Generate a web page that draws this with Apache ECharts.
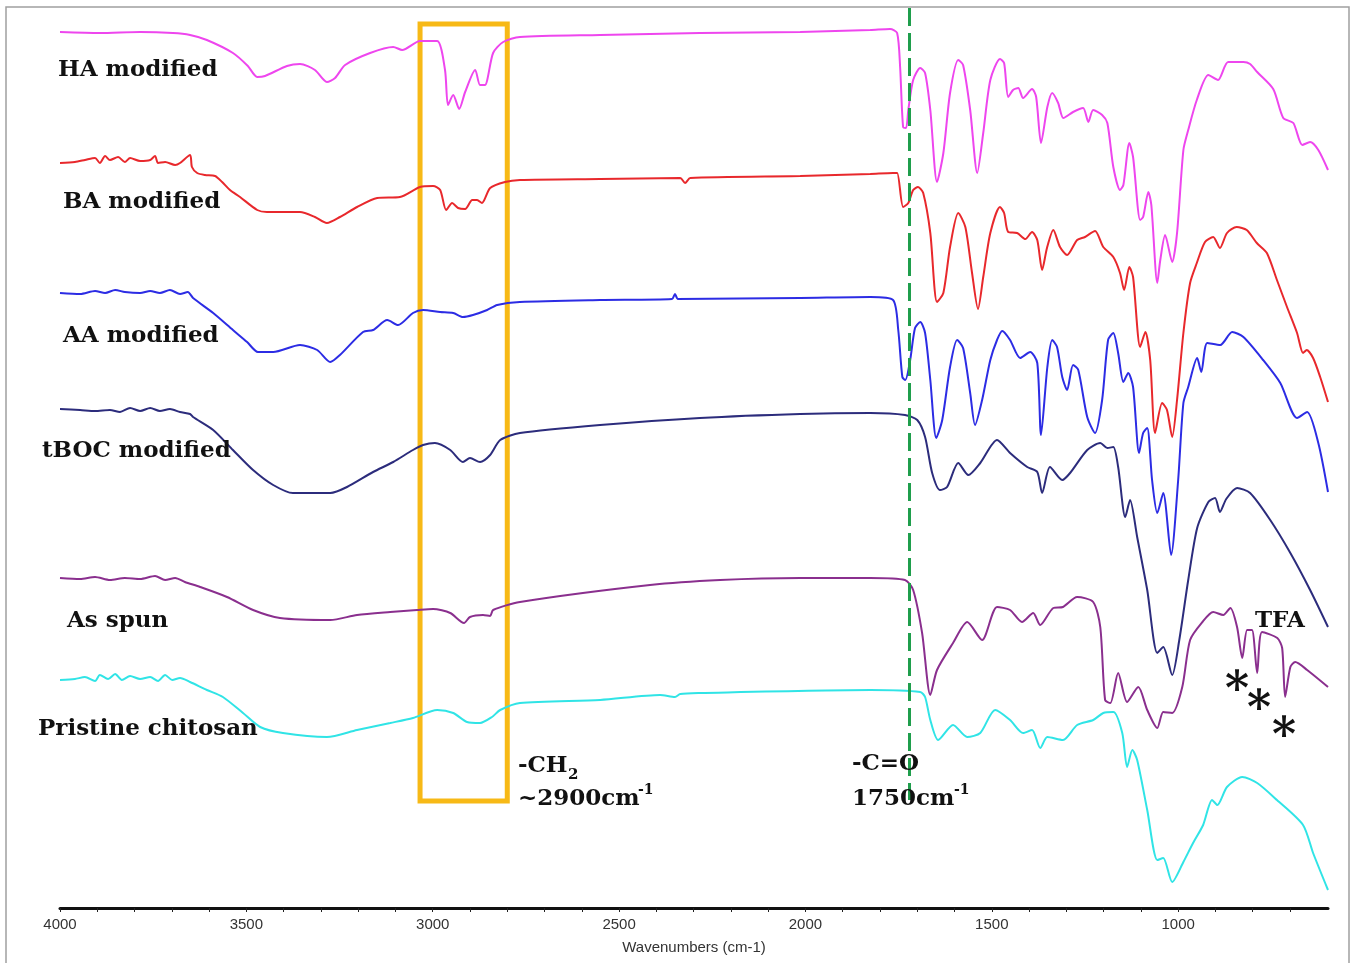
<!DOCTYPE html>
<html>
<head>
<meta charset="utf-8">
<title>FTIR spectra</title>
<script src="https://cdn.jsdelivr.net/npm/echarts@6/dist/echarts.min.js"></script>
<style>
  html, body { margin: 0; padding: 0; background: #fff; }
  #chart { width: 1355px; height: 963px; }
</style>
</head>
<body>
<div id="chart"></div>
<script>
// x = wavenumber (cm-1), y = transmittance with stacked offsets (arbitrary units)
const haModified = [
  [4000, 876], [3893, 875], [3785, 876], [3697, 875], [3651, 873], [3606, 868], [3536, 855], [3496, 842],
  [3471, 831], [3450, 832], [3391, 842], [3356, 844], [3316, 838], [3284, 826], [3262, 830], [3235, 843],
  [3168, 855], [3106, 861], [3082, 858], [3034, 867], [2988, 867], [2967, 838], [2959, 803], [2945, 813],
  [2929, 799], [2913, 816], [2886, 838], [2873, 823], [2860, 823], [2838, 855], [2811, 866], [2766, 871],
  [2551, 873], [2283, 875], [2014, 876], [1826, 878], [1773, 879], [1754, 875], [1746, 841], [1738, 781],
  [1730, 780], [1724, 798], [1711, 828], [1692, 840], [1679, 835], [1665, 798], [1647, 726], [1630, 755],
  [1612, 815], [1590, 848], [1577, 843], [1558, 798], [1539, 735], [1523, 775], [1504, 828], [1478, 849],
  [1467, 845], [1456, 811], [1443, 818], [1429, 820], [1416, 810], [1392, 819], [1381, 811], [1368, 765],
  [1351, 801], [1338, 815], [1322, 805], [1308, 790], [1282, 796], [1255, 800], [1241, 786], [1228, 798],
  [1204, 793], [1190, 785], [1174, 741], [1156, 718], [1147, 723], [1131, 765], [1121, 751], [1102, 688],
  [1094, 691], [1080, 716], [1072, 703], [1056, 625], [1048, 648], [1035, 673], [1016, 646], [1003, 675],
  [986, 758], [973, 778], [950, 808], [919, 833], [893, 828], [866, 846], [825, 846], [807, 844],
  [788, 836], [745, 819], [718, 790], [691, 785], [667, 763], [646, 766], [624, 758], [598, 738]
];

const baModified = [
  [4000, 745], [3960, 746], [3933, 748], [3906, 750], [3893, 745], [3879, 752], [3866, 748], [3844, 751],
  [3826, 746], [3812, 750], [3785, 747], [3758, 748], [3745, 752], [3737, 745], [3718, 746], [3691, 743],
  [3678, 745], [3651, 753], [3646, 741], [3632, 735], [3611, 733], [3584, 732], [3565, 726], [3544, 718],
  [3517, 711], [3471, 698], [3445, 696], [3356, 696], [3316, 691], [3284, 685], [3249, 691], [3203, 701],
  [3149, 710], [3088, 711], [3034, 721], [2999, 722], [2980, 718], [2964, 698], [2948, 705], [2932, 700],
  [2913, 699], [2894, 708], [2881, 708], [2868, 705], [2846, 720], [2806, 726], [2766, 728], [2551, 729],
  [2336, 730], [2323, 725], [2309, 730], [2014, 732], [1826, 734], [1765, 735], [1754, 735], [1738, 701],
  [1724, 705], [1711, 718], [1698, 721], [1684, 715], [1665, 675], [1647, 606], [1630, 615], [1612, 661],
  [1590, 695], [1571, 681], [1553, 635], [1537, 599], [1523, 631], [1504, 675], [1478, 701], [1467, 695],
  [1456, 676], [1432, 675], [1410, 669], [1392, 676], [1378, 668], [1365, 638], [1352, 660], [1335, 678],
  [1317, 661], [1298, 653], [1271, 668], [1250, 671], [1223, 677], [1201, 661], [1174, 651], [1156, 635],
  [1145, 618], [1131, 641], [1121, 631], [1102, 561], [1088, 576], [1075, 548], [1062, 475], [1043, 505],
  [1030, 498], [1016, 471], [1003, 508], [986, 575], [968, 625], [950, 645], [928, 666], [906, 671],
  [888, 660], [869, 675], [843, 681], [816, 678], [789, 665], [762, 655], [735, 628], [708, 601],
  [681, 575], [665, 555], [655, 558], [638, 550], [619, 531], [598, 506]
];

const aaModified = [
  [4000, 615], [3946, 614], [3906, 617], [3879, 615], [3852, 618], [3826, 616], [3785, 615], [3758, 617],
  [3732, 615], [3705, 618], [3678, 614], [3657, 616], [3643, 610], [3589, 595], [3536, 578], [3498, 566],
  [3469, 556], [3428, 556], [3356, 563], [3310, 558], [3275, 546], [3249, 553], [3187, 576], [3160, 578],
  [3122, 588], [3093, 583], [3053, 595], [3026, 598], [2980, 596], [2945, 595], [2919, 591], [2892, 593],
  [2854, 598], [2827, 603], [2766, 606], [2551, 608], [2358, 609], [2350, 614], [2342, 609], [2014, 610],
  [1826, 611], [1765, 608], [1751, 578], [1740, 531], [1732, 528], [1719, 548], [1706, 580], [1692, 586],
  [1679, 575], [1665, 528], [1649, 470], [1633, 488], [1612, 541], [1593, 568], [1577, 560], [1558, 515],
  [1545, 483], [1526, 508], [1504, 548], [1486, 568], [1472, 577], [1451, 568], [1424, 550], [1397, 556],
  [1378, 545], [1368, 473], [1351, 541], [1338, 568], [1325, 561], [1311, 531], [1298, 518], [1282, 543],
  [1268, 538], [1244, 491], [1223, 475], [1204, 508], [1188, 568], [1174, 575], [1161, 555], [1147, 526],
  [1134, 535], [1121, 521], [1105, 455], [1094, 475], [1083, 480], [1070, 428], [1056, 395], [1040, 415],
  [1019, 353], [1000, 428], [986, 505], [973, 521], [949, 550], [938, 536], [922, 565], [887, 563],
  [855, 576], [825, 571], [772, 548], [726, 525], [681, 490], [654, 496], [624, 465], [598, 416]
];

const tbocModified = [
  [4000, 499], [3946, 498], [3906, 497], [3866, 498], [3839, 496], [3812, 500], [3785, 497], [3758, 500],
  [3732, 497], [3705, 499], [3678, 496], [3651, 494], [3643, 491], [3589, 478], [3536, 458], [3482, 438],
  [3428, 423], [3375, 415], [3275, 415], [3230, 421], [3160, 436], [3106, 446], [3053, 458], [3026, 463],
  [2994, 465], [2953, 458], [2919, 446], [2900, 450], [2873, 446], [2846, 453], [2819, 468], [2766, 475],
  [2551, 483], [2283, 490], [2014, 494], [1826, 495], [1733, 493], [1700, 488], [1679, 471], [1660, 435],
  [1639, 418], [1620, 421], [1590, 445], [1563, 433], [1531, 445], [1486, 468], [1451, 455], [1405, 441],
  [1378, 436], [1365, 415], [1344, 441], [1311, 428], [1290, 435], [1244, 458], [1209, 465], [1190, 460],
  [1174, 461], [1161, 441], [1142, 391], [1129, 408], [1110, 371], [1083, 318], [1056, 255], [1040, 261],
  [1016, 233], [997, 268], [973, 328], [949, 380], [919, 406], [901, 410], [888, 396], [871, 409],
  [842, 420], [807, 415], [753, 388], [699, 355], [646, 318], [598, 281]
];

const asSpun = [
  [4000, 330], [3946, 329], [3906, 331], [3866, 328], [3826, 330], [3785, 329], [3745, 332], [3718, 328],
  [3691, 330], [3665, 326], [3624, 321], [3552, 311], [3482, 298], [3410, 290], [3275, 288], [3203, 293],
  [3114, 296], [3042, 298], [2999, 299], [2953, 295], [2916, 285], [2900, 291], [2865, 293], [2846, 292],
  [2838, 298], [2766, 306], [2417, 323], [2229, 328], [2014, 330], [1826, 330], [1733, 328], [1711, 318],
  [1687, 275], [1665, 213], [1647, 238], [1604, 265], [1566, 286], [1526, 268], [1486, 301], [1451, 298],
  [1419, 286], [1389, 295], [1370, 283], [1335, 300], [1309, 301], [1271, 311], [1228, 306], [1209, 281],
  [1196, 208], [1182, 205], [1161, 235], [1137, 206], [1107, 221], [1083, 198], [1056, 180], [1040, 196],
  [1016, 195], [989, 221], [968, 268], [935, 286], [906, 296], [879, 293], [860, 300], [842, 281],
  [828, 250], [815, 278], [802, 278], [788, 235], [775, 276], [734, 270], [721, 260], [713, 211],
  [699, 241], [686, 246], [654, 238], [598, 221]
];

const pristineChitosan = [
  [4000, 228], [3960, 229], [3933, 231], [3906, 227], [3893, 233], [3871, 229], [3852, 234], [3834, 228],
  [3812, 232], [3785, 229], [3758, 231], [3737, 227], [3718, 233], [3699, 228], [3678, 230], [3651, 226],
  [3606, 218], [3563, 211], [3509, 195], [3463, 181], [3402, 175], [3284, 171], [3203, 178], [3114, 185],
  [3053, 190], [2988, 198], [2945, 195], [2908, 186], [2873, 185], [2841, 191], [2819, 198], [2766, 205],
  [2551, 208], [2390, 213], [2350, 211], [2336, 214], [2283, 215], [1826, 218], [1692, 216], [1679, 211],
  [1665, 188], [1644, 168], [1604, 183], [1566, 171], [1531, 175], [1491, 198], [1451, 188], [1416, 175],
  [1392, 178], [1370, 160], [1351, 171], [1309, 168], [1271, 183], [1228, 188], [1201, 195], [1174, 196],
  [1150, 175], [1137, 141], [1123, 158], [1110, 148], [1083, 98], [1056, 48], [1040, 50], [1016, 26],
  [986, 46], [960, 65], [933, 83], [909, 108], [895, 103], [869, 121], [828, 131], [788, 125],
  [735, 108], [665, 83], [638, 55], [598, 18]
];

const xLabelValues = [4000, 3500, 3000, 2500, 2000, 1500, 1000];
const xTickValues = [4000, 3900, 3800, 3700, 3600, 3500, 3400, 3300, 3200, 3100, 3000, 2900, 2800, 2700,
  2600, 2500, 2400, 2300, 2200, 2100, 2000, 1900, 1800, 1700, 1600, 1500, 1400, 1300, 1200, 1100, 1000,
  900, 800, 700];

const seriesNames = ['HA modified', 'BA modified', 'AA modified', 'tBOC modified', 'As spun', 'Pristine chitosan'];
const seriesData = [haModified, baModified, aaModified, tbocModified, asSpun, pristineChitosan];
const seriesColors = ['#ee46ee', '#e8282c', '#2c2ce4', '#2c2c7c', '#8a2f8e', '#30e4e6'];

// annotation positions (wavenumber / y units)
const carbonylWn = 1722;
const ch2Box = [3034, 2800, 884, 107];

const labelFont = 'bold 23px "DejaVu Serif"';
const starFont = 'bold 46px "DejaVu Serif"';

const chart = echarts.init(document.getElementById('chart'));

const series = seriesNames.map((name, i) => ({
  name: name,
  type: 'line',
  data: seriesData[i],
  showSymbol: false,
  smooth: 0.25,
  lineStyle: {width: 2, color: seriesColors[i]},
  itemStyle: {color: seriesColors[i]},
  z: 3
}));

// orange box around the CH2 stretch, green dashed line at C=O
series[0].markArea = {
  silent: true,
  itemStyle: {color: 'rgba(0,0,0,0)', borderColor: '#f7b916', borderWidth: 5},
  data: [[{coord: [ch2Box[0], ch2Box[2]]}, {coord: [ch2Box[1], ch2Box[3]]}]]
};
series[0].markLine = {
  silent: true,
  symbol: 'none',
  label: {show: false},
  lineStyle: {color: '#1f9e4c', width: 3, type: [18, 7]},
  data: [[{coord: [carbonylWn, 900]}, {coord: [carbonylWn, 108]}]]
};

function txt(text, x, y, font) {
  return {
    type: 'text',
    x: x,
    y: y,
    z: 10,
    style: {text: text, font: font || labelFont, fill: '#111', verticalAlign: 'middle', textVerticalAlign: 'middle'}
  };
}

const option = {
  animation: false,
  backgroundColor: '#fff',
  grid: {left: 60, right: 27, top: 8, bottom: 55},
  xAxis: {
    type: 'value',
    inverse: true,
    min: 598,
    max: 4000,
    name: 'Wavenumbers (cm-1)',
    nameLocation: 'middle',
    nameGap: 32,
    nameTextStyle: {fontSize: 15, color: '#333', fontFamily: 'Liberation Sans'},
    splitLine: {show: false},
    axisLine: {lineStyle: {color: '#111', width: 3}},
    axisTick: {show: true, customValues: xTickValues, length: 4, lineStyle: {color: '#222', width: 1}},
    axisLabel: {
      customValues: xLabelValues,
      formatter: (v) => String(v),
      fontSize: 15,
      color: '#333',
      fontFamily: 'Liberation Sans',
      margin: 9
    }
  },
  yAxis: {
    type: 'value',
    min: 0,
    max: 900,
    show: false
  },
  graphic: [
    {
      type: 'rect',
      shape: {x: 6, y: 7, width: 1343, height: 980},
      style: {fill: 'none', stroke: '#a0a0a0', lineWidth: 1.5},
      silent: true,
      z: 0
    },
    txt('HA modified', 58, 70),
    txt('BA modified', 63, 202),
    txt('AA modified', 63, 336),
    txt('tBOC modified', 42, 451),
    txt('As spun', 67, 621),
    txt('Pristine chitosan', 38, 729),
    txt('-CH', 518, 766),
    txt('2', 568, 775, 'bold 15px "DejaVu Serif"'),
    txt('~2900cm', 518, 799),
    txt('-1', 638, 790, 'bold 14px "DejaVu Serif"'),
    txt('-C=O', 852, 764),
    txt('1750cm', 852, 799),
    txt('-1', 954, 790, 'bold 14px "DejaVu Serif"'),
    txt('TFA', 1255, 621),
    txt('*', 1225, 692, starFont),
    txt('*', 1247, 711, starFont),
    txt('*', 1272, 738, starFont)
  ],
  series: series
};

chart.setOption(option);
</script>
</body>
</html>
